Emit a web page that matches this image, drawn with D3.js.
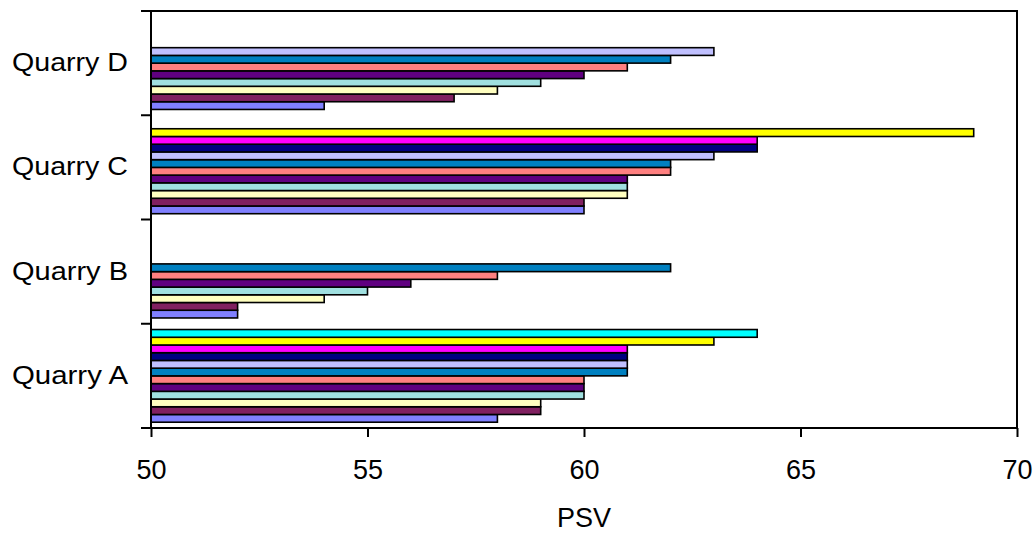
<!DOCTYPE html>
<html>
<head>
<meta charset="utf-8">
<script src="https://cdn.jsdelivr.net/npm/d3@7"></script>
<style>
  html, body { margin: 0; padding: 0; background: #fff; }
  svg text { font-family: "Liberation Sans", Arial, sans-serif; fill: #000; }
</style>
</head>
<body>
<svg id="chart" width="1035" height="534"></svg>
<script>
// Categories, top to bottom as drawn
const categories = ["Quarry D", "Quarry C", "Quarry B", "Quarry A"];
// PSV values per quarry, series 1 (bottom bar) upward
const quarryA = [58, 59, 59, 60, 60, 60, 61, 61, 61, 61, 63, 64];
const quarryB = [52, 52, 54, 55, 56, 58, 62];
const quarryC = [60, 60, 61, 61, 61, 62, 62, 63, 64, 64, 69];
const quarryD = [54, 57, 58, 59, 60, 61, 62, 63];
const seriesColors = ["#8080ff", "#802060", "#ffffc0", "#a0e0e0", "#600080", "#ff8080",
                      "#0080c0", "#c0c0ff", "#000080", "#ff00ff", "#ffff00", "#00ffff"];
const xTicks = [50, 55, 60, 65, 70];
const xTitle = "PSV";

(function () {
const valuesByCategory = {
  "Quarry A": quarryA, "Quarry B": quarryB, "Quarry C": quarryC, "Quarry D": quarryD
};
const seriesIndex = d3.range(seriesColors.length);

const svg = d3.select("#chart");
const pL = 151, pR = 1017, pT = 11, pB = 428;

const x = d3.scaleLinear().domain([50, 70]).range([pL, pR]);
const y = d3.scaleBand().domain(categories).range([pT, pB]).paddingInner(0).paddingOuter(0);
const yInner = d3.scaleBand().domain(seriesIndex).range([y.bandwidth(), 0])
  .paddingInner(0).paddingOuter(0.75);

// Bars
const bars = [];
categories.forEach(c => {
  valuesByCategory[c].forEach((v, i) => bars.push({ c, i, v }));
});
svg.append("g").selectAll("rect").data(bars).join("rect")
  .attr("x", x(50))
  .attr("y", d => y(d.c) + yInner(d.i))
  .attr("width", d => x(d.v) - x(50))
  .attr("height", yInner.bandwidth())
  .attr("fill", d => seriesColors[d.i])
  .attr("stroke", "#000")
  .attr("stroke-width", 1.6);

// Frame
svg.append("rect")
  .attr("x", pL).attr("y", pT)
  .attr("width", pR - pL).attr("height", pB - pT)
  .attr("fill", "none").attr("stroke", "#000").attr("stroke-width", 2);

// Bottom axis
const xAxis = svg.append("g")
  .attr("transform", `translate(0,${pB})`)
  .call(d3.axisBottom(x).tickValues(xTicks).tickSize(9).tickPadding(23));
xAxis.select(".domain").remove();
xAxis.selectAll(".tick line").attr("stroke", "#000").attr("stroke-width", 2);
xAxis.selectAll(".tick text")
  .style("font-size", "27px")
  .style("font-family", "'Liberation Sans', Arial, sans-serif");

// Left category ticks at band boundaries
const boundaries = categories.map(c => y(c)).concat([pB]);
svg.append("g").selectAll("line").data(boundaries).join("line")
  .attr("x1", pL - 10).attr("x2", pL)
  .attr("y1", d => d).attr("y2", d => d)
  .attr("stroke", "#000").attr("stroke-width", 2);

// Category labels
svg.append("g").selectAll("text").data(categories).join("text")
  .attr("x", 128)
  .attr("y", d => y(d) + y.bandwidth() / 2 + 8)
  .attr("text-anchor", "end")
  .attr("textLength", 116)
  .attr("lengthAdjust", "spacingAndGlyphs")
  .style("font-size", "26px")
  .text(d => d);

// Axis title
svg.append("text")
  .attr("x", (pL + pR) / 2)
  .attr("y", 527)
  .attr("text-anchor", "middle")
  .style("font-size", "27px")
  .text(xTitle);
})();
</script>
</body>
</html>
